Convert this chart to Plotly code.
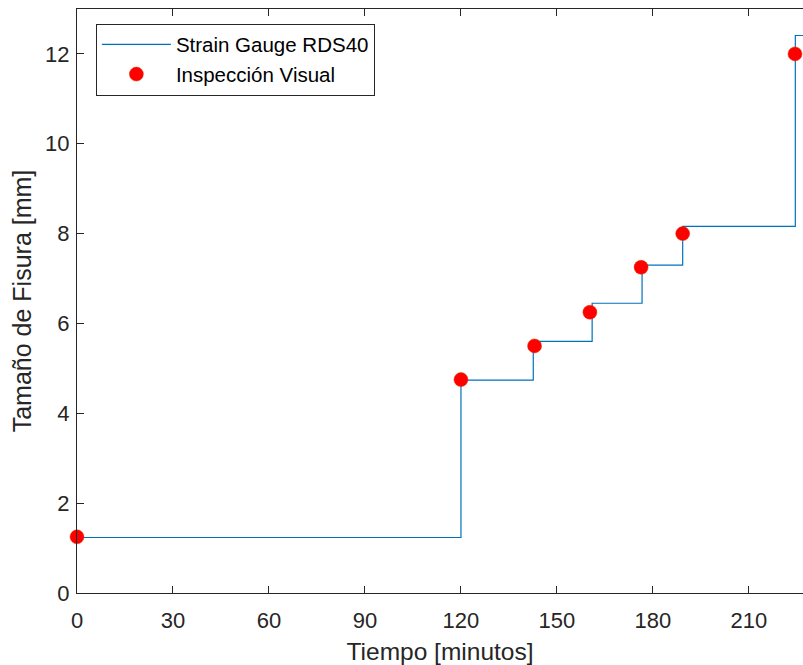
import plotly.graph_objects as go

# Strain gauge step signal (change points) [minutes, mm]
gauge_time = [0, 120.0, 142.6, 161.0, 176.6, 189.3, 224.5, 240.0]
gauge_size = [1.235, 4.74, 5.60, 6.45, 7.30, 8.16, 12.41, 12.41]

# Visual inspection points [minutes, mm]
insp_time = [0, 120.0, 143.0, 160.3, 176.3, 189.3, 224.4]
insp_size = [1.25, 4.75, 5.50, 6.25, 7.25, 8.00, 12.00]

x_ticks = [0, 30, 60, 90, 120, 150, 180, 210]
y_ticks = [0, 2, 4, 6, 8, 10, 12]

FONT = "Liberation Sans"
AX = "#262626"

fig = go.Figure()
fig.add_trace(go.Scatter(
    x=gauge_time, y=gauge_size, mode="lines", line_shape="hv",
    line=dict(color="#0072BD", width=1.2), name="Strain Gauge RDS40"))
fig.add_trace(go.Scatter(
    x=insp_time, y=insp_size, mode="markers",
    marker=dict(color="#FF0000", size=14, line=dict(color="#E03000", width=0.5)),
    name="Inspección Visual", cliponaxis=False))

fig.update_layout(
    width=803, height=665,
    margin=dict(l=77, r=0, t=9, b=72, autoexpand=False),
    paper_bgcolor="white", plot_bgcolor="white",
    font=dict(family=FONT, color=AX, size=22),
    showlegend=True,
    legend=dict(
        x=0.026, y=0.975, xanchor="left", yanchor="top",
        bgcolor="white", bordercolor=AX, borderwidth=1,
        font=dict(family=FONT, size=20.5, color="black"),
        itemwidth=69, tracegroupgap=0),
    xaxis=dict(
        range=[0, 226.9], tickvals=x_ticks, ticktext=[str(v) for v in x_ticks],
        showgrid=False, zeroline=False, showline=True, linecolor=AX, linewidth=1,
        mirror="ticks", ticks="inside", ticklen=7, tickcolor=AX, tickwidth=1,
        tickfont=dict(size=22, color=AX), ticklabelstandoff=8, automargin=False,
        title=dict(text="Tiempo [minutos]", font=dict(size=24.5, color=AX), standoff=12)),
    yaxis=dict(
        range=[0, 13], tickvals=y_ticks, ticktext=[str(v) for v in y_ticks],
        showgrid=False, zeroline=False, showline=True, linecolor=AX, linewidth=1,
        mirror=False, ticks="inside", ticklen=7, tickcolor=AX, tickwidth=1,
        tickfont=dict(size=22, color=AX), ticklabelstandoff=2, automargin=False,
        title=dict(text="Tamaño de Fisura [mm]", font=dict(size=25, color=AX), standoff=6)),
)

fig.write_html(
    "out.html",
    config={"displayModeBar": False, "staticPlot": True},
    post_script="document.body.style.margin='0';document.body.style.overflow='hidden';",
)
